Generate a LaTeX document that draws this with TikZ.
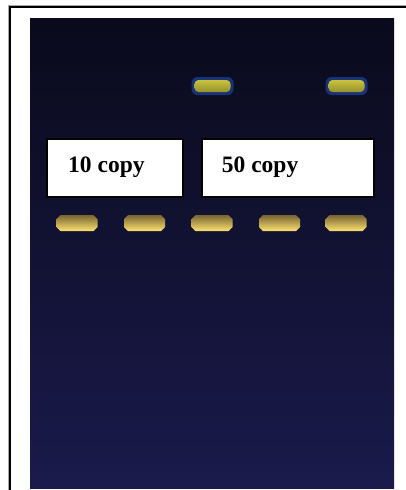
\documentclass[tikz,border=0pt]{standalone}
\usepackage{fontspec}
\setmainfont{Liberation Serif}
\definecolor{geltop}{RGB}{10,10,28}
\definecolor{gelbot}{RGB}{26,26,76}
\definecolor{bandtop}{RGB}{120,100,48}
\definecolor{bandmid}{RGB}{215,185,85}
\definecolor{bandbot}{RGB}{252,226,112}
\definecolor{hitop}{RGB}{200,194,64}
\definecolor{himid}{RGB}{240,236,110}
\definecolor{hibot}{RGB}{150,144,44}
\definecolor{glow}{RGB}{24,50,118}
\tikzset{
  lowband/.style={top color=bandtop, middle color=bandmid, bottom color=bandbot},
  glowband/.style={rectangle, rounded corners=6pt, minimum width=42pt, minimum height=18pt, inner sep=0pt, fill=glow},
  hiband/.style={rectangle, rounded corners=4pt, minimum width=36pt, minimum height=12pt, inner sep=0pt,
    top color=hitop, middle color=himid, bottom color=hibot},
  labelbox/.style={draw=black, line width=2pt, fill=white, inner sep=0pt, minimum height=58pt},
  labeltext/.style={font=\fontsize{23.5}{28}\selectfont\bfseries, inner sep=0pt, anchor=base west}
}
\newcommand{\gelband}[2]{%
  \coordinate (#1) at (#2);
  \shade[lowband] ($(#1)+(-16.5,-8)$) -- ++(33,0) -- ++(4,4) -- ++(0,8) -- ++(-4,4)
     -- ++(-33,0) -- ++(-4,-4) -- ++(0,-8) -- cycle;}
\usetikzlibrary{calc}
\begin{document}
\begin{tikzpicture}[x=1pt,y=-1pt]
\useasboundingbox (0,0) rectangle (406,490);
\fill[white] (0,0) rectangle (406,490);
% frame
\draw[gray!70, line width=1pt] (8,490) -- (8,5.3) -- (406,5.3);
\draw[black, line width=1.5pt] (10,490) -- (10,7) -- (406,7);
% gel
\shade[top color=geltop, bottom color=gelbot] (30,18) rectangle (394,488);
% high bands
\node[glowband] (g1) at (212.5,86) {};
\node[hiband] (h1) at (212.5,86) {};
\node[glowband] (g2) at (346.5,86) {};
\node[hiband] (h2) at (346.5,86) {};
% label boxes
\node[labelbox, minimum width=135.4pt] (box1) at (115,167.5) {};
\node[labelbox, minimum width=172.6pt] (box2) at (288,167.5) {};
\node[labeltext] (t1) at (68,172.7) {10 copy};
\node[labeltext] (t2) at (221.7,172.7) {50 copy};
% low bands
\gelband{b1}{77,223}
\gelband{b2}{144.5,223}
\gelband{b3}{212,223}
\gelband{b4}{279.5,223}
\gelband{b5}{346,223}
\end{tikzpicture}
\end{document}
